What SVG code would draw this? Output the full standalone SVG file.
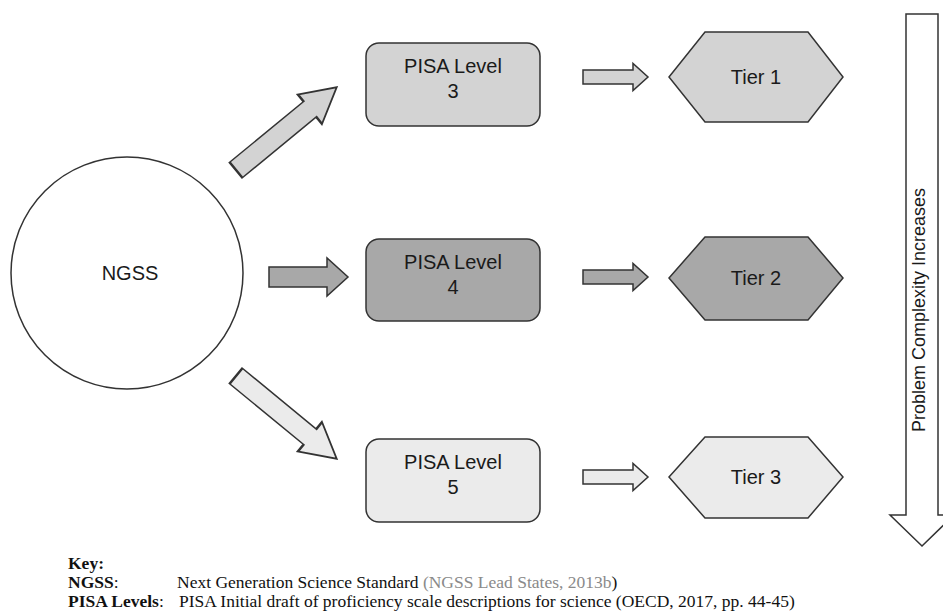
<svg xmlns="http://www.w3.org/2000/svg" width="943" height="614" viewBox="0 0 943 614">
<style>
.sh{stroke:#333;stroke-width:1.5;stroke-linejoin:miter}
.l1{fill:#d3d3d3}.l2{fill:#a8a8a8}.l3{fill:#ebebeb}
.t{font-family:"Liberation Sans",Arial,sans-serif;font-size:20px;fill:#1a1a1a;text-anchor:middle}
.k{font-family:"Liberation Serif","Times New Roman",serif;font-size:17.5px;fill:#111}
.b{font-weight:bold}
</style>
<defs>
<path id="bigArrow" d="M0,-10 L58,-10 L58,-19 L79,0 L58,19 L58,10 L0,10 Z"/>
<path id="smallArrow" d="M0,-7 L50,-7 L50,-13.5 L65,0 L50,13.5 L50,7 L0,7 Z"/>
</defs>
<rect width="943" height="614" fill="#fff"/>
<g id="connectors">
<use href="#bigArrow" class="sh l1" transform="translate(236,170) rotate(-39.4) scale(1.65,1)"/>
<use href="#bigArrow" class="sh l2" transform="translate(269,277)"/>
<use href="#bigArrow" class="sh l3" transform="translate(236,376) rotate(39.4) scale(1.65,1)"/>
<use href="#smallArrow" class="sh l1" transform="translate(583,77)"/>
<use href="#smallArrow" class="sh l2" transform="translate(583,277)"/>
<use href="#smallArrow" class="sh l3" transform="translate(583,477)"/>
</g>
<g id="ngss">
<circle cx="127" cy="273" r="116" fill="#fff" class="sh"/>
<text class="t" x="130" y="280">NGSS</text>
</g>
<g id="pisa3">
<rect x="366" y="43" width="174" height="83" rx="13" class="sh l1"/>
<text class="t" x="453" y="73">PISA Level</text>
<text class="t" x="453" y="98">3</text>
</g>
<g id="pisa4">
<rect x="366" y="239" width="174" height="82" rx="13" class="sh l2"/>
<text class="t" x="453" y="269">PISA Level</text>
<text class="t" x="453" y="294">4</text>
</g>
<g id="pisa5">
<rect x="366" y="439" width="174" height="83" rx="13" class="sh l3"/>
<text class="t" x="453" y="469">PISA Level</text>
<text class="t" x="453" y="494">5</text>
</g>
<g id="tier1">
<polygon points="669,77 705,32 808,32 843,77 808,122 705,122" class="sh l1"/>
<text class="t" x="756" y="84">Tier 1</text>
</g>
<g id="tier2">
<polygon points="669,278 705,237 808,237 843,278 808,320 705,320" class="sh l2"/>
<text class="t" x="756" y="285">Tier 2</text>
</g>
<g id="tier3">
<polygon points="669,477 705,437 808,437 843,477 808,518 705,518" class="sh l3"/>
<text class="t" x="756" y="484">Tier 3</text>
</g>
<g id="complexity">
<polygon points="906,14 938,14 938,515 954,515 922,546 890,515 906,515" fill="#fff" class="sh"/>
<text class="t" style="font-size:18px" transform="translate(925,310) rotate(-90)">Problem Complexity  Increases</text>
</g>
<g id="key">
<text class="k b" x="68" y="569">Key:</text>
<text class="k b" x="68" y="588">NGSS<tspan font-weight="normal">:</tspan></text>
<text class="k" x="177" y="588">Next Generation Science Standard <tspan fill="#8a8a8a">(NGSS Lead States, 2013b</tspan>)</text>
<text class="k b" x="68" y="607">PISA Levels<tspan font-weight="normal">:</tspan></text>
<text class="k" x="179" y="607">PISA Initial draft of proficiency scale descriptions for science (OECD, 2017, pp. 44-45)</text>
</g>
</svg>
